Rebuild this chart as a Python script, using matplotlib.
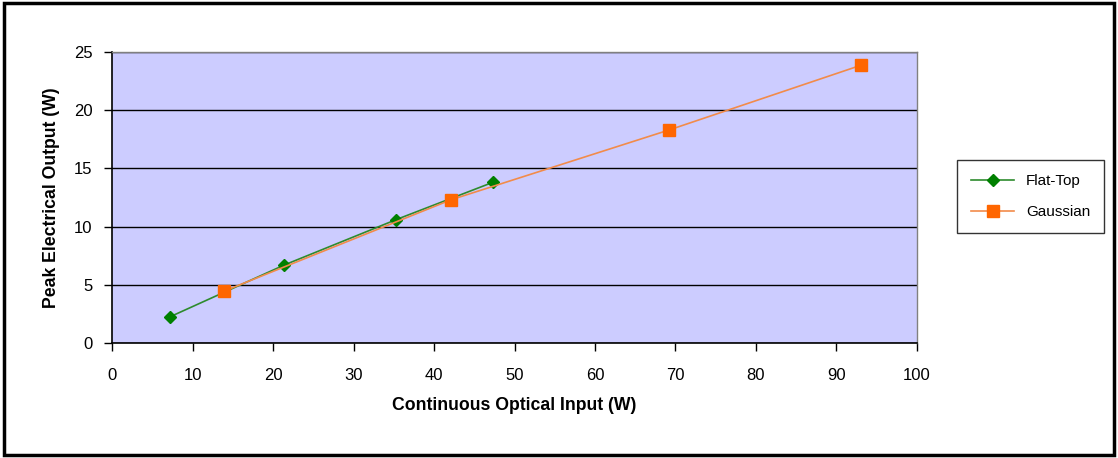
import matplotlib.pyplot as plt
from matplotlib.patches import Rectangle

# data
flat_x = [7.2, 21.4, 35.3, 47.3]
flat_y = [2.25, 6.7, 10.6, 13.8]
gauss_x = [13.9, 42.1, 69.2, 93.0]
gauss_y = [4.45, 12.3, 18.3, 23.85]

plt.rcParams["font.family"] = ["Liberation Sans", "DejaVu Sans"]

fig = plt.figure(figsize=(11.18, 4.58), dpi=100)
ax = fig.add_axes([0.1002, 0.2511, 0.7200, 0.6354])
ax.set_facecolor("#CCCCFF")

ax.plot(flat_x, flat_y, color="#2E8B2E", linewidth=1.2, marker="D",
        markersize=6, markerfacecolor="#008000", markeredgecolor="#008000",
        label="Flat-Top", zorder=3)
ax.plot(gauss_x, gauss_y, color="#F28B4A", linewidth=1.2, marker="s",
        markersize=9, markerfacecolor="#FF6600", markeredgecolor="#FF6600",
        label="Gaussian", zorder=3)

ax.set_xlim(0, 100)
ax.set_ylim(0, 25)
ax.set_xticks(range(0, 101, 10))
ax.set_yticks(range(0, 26, 5))
ax.yaxis.grid(True, color="black", linewidth=1.0)
ax.set_axisbelow(True)

for side in ("top", "right"):
    ax.spines[side].set_color("#808080")
    ax.spines[side].set_linewidth(1.0)
for side in ("left", "bottom"):
    ax.spines[side].set_color("black")
    ax.spines[side].set_linewidth(1.2)

ax.tick_params(direction="out", length=6, width=1.0, labelsize=12)
ax.tick_params(axis="x", pad=12)
ax.tick_params(axis="y", pad=8)
ax.set_xlabel("Continuous Optical Input (W)", fontsize=12.7, fontweight="bold", labelpad=10)
ax.set_ylabel("Peak Electrical Output (W)", fontsize=12.7, fontweight="bold", labelpad=10)

leg = fig.legend(loc="center left", bbox_to_anchor=(0.8495, 0.571), fontsize=11,
                 frameon=True, fancybox=False, edgecolor="black",
                 borderpad=0.9, labelspacing=1.1, handlelength=2.8)
leg.get_frame().set_linewidth(1.0)

# outer chart border
fig.patches.append(Rectangle((0.004, 0.006), 0.992, 0.988, transform=fig.transFigure,
                             fill=False, edgecolor="black", linewidth=2.5))

fig.savefig("out.png", dpi=100)
